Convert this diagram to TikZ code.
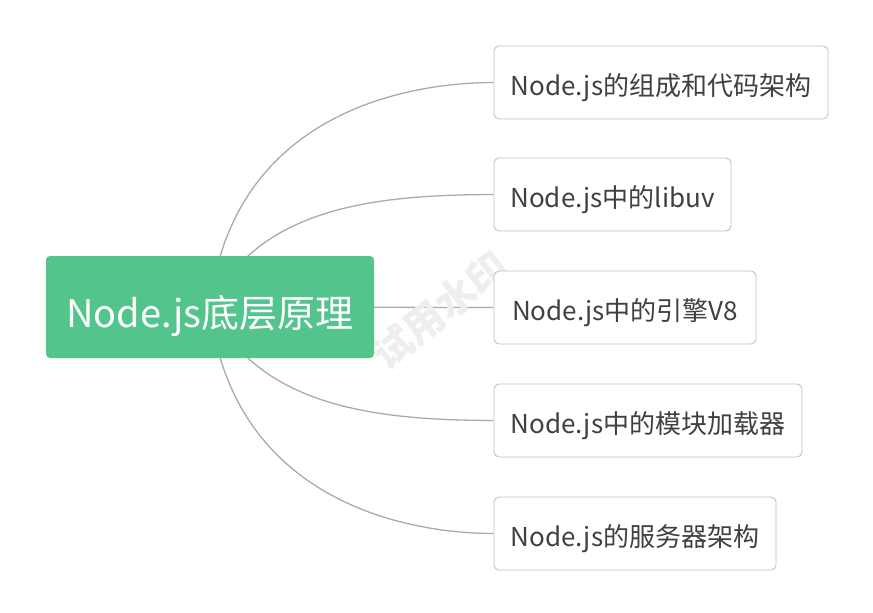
\documentclass[tikz,border=0pt]{standalone}
\usepackage{fontspec}
\setmainfont{Noto Sans CJK SC}
\usetikzlibrary{backgrounds}
\definecolor{mgreen}{RGB}{82,196,140}
\definecolor{mborder}{RGB}{192,192,192}
\definecolor{mline}{RGB}{170,170,170}
\definecolor{mtext}{RGB}{64,64,64}
\definecolor{mwater}{RGB}{238,238,238}
\tikzset{
  rootbox/.style={fill=mgreen, draw=none, rounded corners=4pt, text=white,
    minimum height=102pt, inner sep=0pt, text height=40pt, text depth=0pt,
    font=\fontsize{38}{44}\selectfont},
  topicbox/.style={fill=white, draw=mborder, line width=0.9pt, rounded corners=5pt, text=mtext,
    minimum height=73pt, inner sep=0pt, text height=25pt, text depth=0pt,
    font=\fontsize{26}{30}\selectfont},
  conn/.style={draw=mline, line width=1.3pt},
}
\begin{document}
\begin{tikzpicture}[x=1pt,y=-1pt]
\useasboundingbox (0,0) rectangle (873,613);
\node[text=mwater, rotate=38, font=\fontsize{40}{44}\selectfont\bfseries] (wm) at (440,310) {试用水印};
\node[rootbox, minimum width=328pt] (root) at (210,307) {Node.js底层原理};
\node[topicbox, minimum width=334pt] (t1) at (661,82.5) {Node.js的组成和代码架构};
\node[topicbox, minimum width=237pt] (t2) at (612.5,194.5) {Node.js中的libuv};
\node[topicbox, minimum width=262pt] (t3) at (625,307.5) {Node.js中的引擎V8};
\node[topicbox, minimum width=308pt] (t4) at (648,420.5) {Node.js中的模块加载器};
\node[topicbox, minimum width=282pt] (t5) at (635,533.5) {Node.js的服务器架构};
\begin{scope}[on background layer]
\path[conn] (root.center) .. controls (230,130) and (380,83) .. (t1.west);
\path[conn] (root.center) .. controls (260,205) and (380,195) .. (t2.west);
\path[conn] (root.center) -- (t3.west);
\path[conn] (root.center) .. controls (260,409) and (380,420) .. (t4.west);
\path[conn] (root.center) .. controls (230,484) and (380,533) .. (t5.west);
\end{scope}
\end{tikzpicture}
\end{document}
